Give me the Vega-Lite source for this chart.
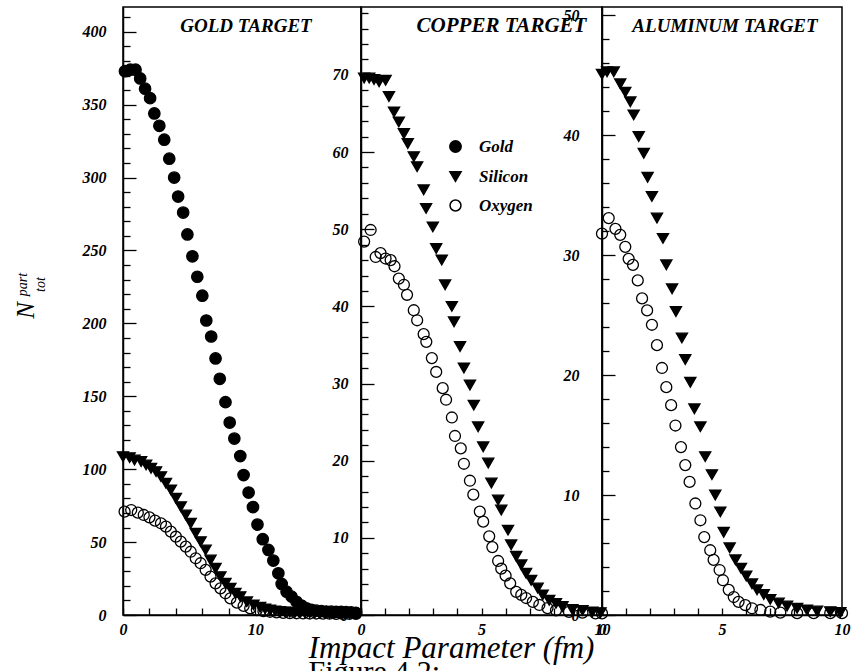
{
  "$schema": "https://vega.github.io/schema/vega-lite/v6.json",
  "background": "white",
  "padding": {"left": 12, "top": 4, "right": 5, "bottom": 0},
  "bounds": "flush",
  "spacing": 0,
  "config": {
    "font": "Liberation Serif",
    "view": {"stroke": "black", "strokeWidth": 1.5},
    "axis": {
      "domainColor": "black", "domainWidth": 1.5, "tickColor": "black", "tickWidth": 1.3, "grid": false,
      "labelFont": "Liberation Serif", "labelFontStyle": "italic", "labelFontWeight": "bold", "labelFontSize": 16,
      "labelColor": "black", "labelFlush": false, "labelOverlap": false, "titleColor": "black"
    },
    "legend": {"labelFont": "Liberation Serif", "labelFontStyle": "italic", "labelFontWeight": "bold", "labelFontSize": 17, "labelColor": "black"}
  },
  "title": {
    "text": "part", "subtitle": "tot", "orient": "left", "anchor": "middle",
    "font": "Liberation Serif", "fontStyle": "italic", "fontWeight": "normal", "fontSize": 14, "color": "black",
    "subtitleFont": "Liberation Serif", "subtitleFontStyle": "italic", "subtitleFontSize": 14, "subtitleColor": "black",
    "offset": -36, "dx": 61, "subtitlePadding": 4
  },
  "data": {"values": [
    {"target":"Gold","projectile":"Gold","b":0.15,"n":373},{"target":"Gold","projectile":"Gold","b":0.55,"n":374},{"target":"Gold","projectile":"Gold","b":0.95,"n":374},{"target":"Gold","projectile":"Gold","b":1.3,"n":368},{"target":"Gold","projectile":"Gold","b":1.67,"n":361},{"target":"Gold","projectile":"Gold","b":2.05,"n":354.5},{"target":"Gold","projectile":"Gold","b":2.37,"n":344},{"target":"Gold","projectile":"Gold","b":2.75,"n":335.5},{"target":"Gold","projectile":"Gold","b":3.12,"n":326},{"target":"Gold","projectile":"Gold","b":3.5,"n":313},{"target":"Gold","projectile":"Gold","b":3.87,"n":300},{"target":"Gold","projectile":"Gold","b":4.17,"n":287},{"target":"Gold","projectile":"Gold","b":4.55,"n":276},{"target":"Gold","projectile":"Gold","b":4.87,"n":261},{"target":"Gold","projectile":"Gold","b":5.25,"n":246},{"target":"Gold","projectile":"Gold","b":5.62,"n":232},{"target":"Gold","projectile":"Gold","b":6.0,"n":219},{"target":"Gold","projectile":"Gold","b":6.3,"n":202},{"target":"Gold","projectile":"Gold","b":6.67,"n":191},{"target":"Gold","projectile":"Gold","b":7.0,"n":176},{"target":"Gold","projectile":"Gold","b":7.32,"n":162},{"target":"Gold","projectile":"Gold","b":7.75,"n":146},{"target":"Gold","projectile":"Gold","b":8.07,"n":132},{"target":"Gold","projectile":"Gold","b":8.42,"n":121},{"target":"Gold","projectile":"Gold","b":8.87,"n":109},{"target":"Gold","projectile":"Gold","b":9.12,"n":96},{"target":"Gold","projectile":"Gold","b":9.5,"n":84},{"target":"Gold","projectile":"Gold","b":9.83,"n":74},{"target":"Gold","projectile":"Gold","b":10.17,"n":62},{"target":"Gold","projectile":"Gold","b":10.57,"n":52},{"target":"Gold","projectile":"Gold","b":11.0,"n":44.6},{"target":"Gold","projectile":"Gold","b":11.37,"n":37.3},{"target":"Gold","projectile":"Gold","b":11.75,"n":28.6},{"target":"Gold","projectile":"Gold","b":12.0,"n":21.3},{"target":"Gold","projectile":"Gold","b":12.37,"n":16},{"target":"Gold","projectile":"Gold","b":12.75,"n":12.6},{"target":"Gold","projectile":"Gold","b":13.12,"n":9.1},{"target":"Gold","projectile":"Gold","b":13.5,"n":6.5},{"target":"Gold","projectile":"Gold","b":13.87,"n":4.6},{"target":"Gold","projectile":"Gold","b":14.25,"n":3.6},{"target":"Gold","projectile":"Gold","b":14.62,"n":3.0},{"target":"Gold","projectile":"Gold","b":15.0,"n":2.6},{"target":"Gold","projectile":"Gold","b":15.37,"n":2.4},{"target":"Gold","projectile":"Gold","b":15.75,"n":2.3},{"target":"Gold","projectile":"Gold","b":16.12,"n":2.2},{"target":"Gold","projectile":"Gold","b":16.5,"n":2.1},{"target":"Gold","projectile":"Gold","b":16.87,"n":2.0},{"target":"Gold","projectile":"Gold","b":17.25,"n":1.8},{"target":"Gold","projectile":"Gold","b":17.62,"n":1.4},
    {"target":"Gold","projectile":"Silicon","b":0.0,"n":108.6},{"target":"Gold","projectile":"Silicon","b":0.5,"n":107.9},{"target":"Gold","projectile":"Silicon","b":0.87,"n":106.3},{"target":"Gold","projectile":"Silicon","b":1.37,"n":105.2},{"target":"Gold","projectile":"Silicon","b":1.75,"n":102.9},{"target":"Gold","projectile":"Silicon","b":2.12,"n":100.6},{"target":"Gold","projectile":"Silicon","b":2.5,"n":98.3},{"target":"Gold","projectile":"Silicon","b":2.87,"n":94.9},{"target":"Gold","projectile":"Silicon","b":3.25,"n":90.3},{"target":"Gold","projectile":"Silicon","b":3.62,"n":85.8},{"target":"Gold","projectile":"Silicon","b":4.0,"n":80.1},{"target":"Gold","projectile":"Silicon","b":4.37,"n":74.3},{"target":"Gold","projectile":"Silicon","b":4.75,"n":68.6},{"target":"Gold","projectile":"Silicon","b":5.12,"n":62.9},{"target":"Gold","projectile":"Silicon","b":5.5,"n":56.1},{"target":"Gold","projectile":"Silicon","b":5.87,"n":50.3},{"target":"Gold","projectile":"Silicon","b":6.25,"n":44.6},{"target":"Gold","projectile":"Silicon","b":6.62,"n":37.7},{"target":"Gold","projectile":"Silicon","b":7.0,"n":32.0},{"target":"Gold","projectile":"Silicon","b":7.37,"n":26.3},{"target":"Gold","projectile":"Silicon","b":7.75,"n":21.7},{"target":"Gold","projectile":"Silicon","b":8.12,"n":18.3},{"target":"Gold","projectile":"Silicon","b":8.5,"n":14.9},{"target":"Gold","projectile":"Silicon","b":8.87,"n":12.6},{"target":"Gold","projectile":"Silicon","b":9.37,"n":9.1},{"target":"Gold","projectile":"Silicon","b":9.87,"n":6.9},{"target":"Gold","projectile":"Silicon","b":10.37,"n":5.3},{"target":"Gold","projectile":"Silicon","b":10.75,"n":4.2},{"target":"Gold","projectile":"Silicon","b":11.12,"n":3.4},{"target":"Gold","projectile":"Silicon","b":11.5,"n":2.8},{"target":"Gold","projectile":"Silicon","b":11.87,"n":2.4},{"target":"Gold","projectile":"Silicon","b":12.25,"n":2.1},{"target":"Gold","projectile":"Silicon","b":12.62,"n":1.9},{"target":"Gold","projectile":"Silicon","b":13.0,"n":1.7},{"target":"Gold","projectile":"Silicon","b":13.37,"n":1.6},{"target":"Gold","projectile":"Silicon","b":13.75,"n":1.5},{"target":"Gold","projectile":"Silicon","b":14.12,"n":1.4},{"target":"Gold","projectile":"Silicon","b":14.5,"n":1.3},{"target":"Gold","projectile":"Silicon","b":14.87,"n":1.3},{"target":"Gold","projectile":"Silicon","b":15.25,"n":1.2},{"target":"Gold","projectile":"Silicon","b":15.62,"n":1.2},{"target":"Gold","projectile":"Silicon","b":16.0,"n":1.1},{"target":"Gold","projectile":"Silicon","b":16.37,"n":1.1},{"target":"Gold","projectile":"Silicon","b":16.75,"n":1.0},{"target":"Gold","projectile":"Silicon","b":17.12,"n":1.0},{"target":"Gold","projectile":"Silicon","b":17.5,"n":0.9},
    {"target":"Gold","projectile":"Oxygen","b":0.12,"n":70.9},{"target":"Gold","projectile":"Oxygen","b":0.62,"n":72.0},{"target":"Gold","projectile":"Oxygen","b":1.12,"n":70.2},{"target":"Gold","projectile":"Oxygen","b":1.57,"n":68.6},{"target":"Gold","projectile":"Oxygen","b":2.0,"n":67.0},{"target":"Gold","projectile":"Oxygen","b":2.42,"n":64.7},{"target":"Gold","projectile":"Oxygen","b":2.87,"n":62.9},{"target":"Gold","projectile":"Oxygen","b":3.25,"n":60.6},{"target":"Gold","projectile":"Oxygen","b":3.62,"n":57.2},{"target":"Gold","projectile":"Oxygen","b":4.0,"n":53.7},{"target":"Gold","projectile":"Oxygen","b":4.37,"n":50.3},{"target":"Gold","projectile":"Oxygen","b":4.75,"n":46.9},{"target":"Gold","projectile":"Oxygen","b":5.12,"n":43.4},{"target":"Gold","projectile":"Oxygen","b":5.5,"n":38.9},{"target":"Gold","projectile":"Oxygen","b":5.87,"n":35.5},{"target":"Gold","projectile":"Oxygen","b":6.25,"n":30.9},{"target":"Gold","projectile":"Oxygen","b":6.62,"n":26.3},{"target":"Gold","projectile":"Oxygen","b":7.0,"n":21.7},{"target":"Gold","projectile":"Oxygen","b":7.37,"n":18.3},{"target":"Gold","projectile":"Oxygen","b":7.75,"n":14.9},{"target":"Gold","projectile":"Oxygen","b":8.12,"n":11.4},{"target":"Gold","projectile":"Oxygen","b":8.62,"n":8.5},{"target":"Gold","projectile":"Oxygen","b":9.12,"n":6.2},{"target":"Gold","projectile":"Oxygen","b":9.62,"n":4.6},{"target":"Gold","projectile":"Oxygen","b":10.12,"n":3.4},{"target":"Gold","projectile":"Oxygen","b":10.62,"n":2.7},{"target":"Gold","projectile":"Oxygen","b":11.12,"n":2.2},{"target":"Gold","projectile":"Oxygen","b":11.62,"n":1.8},{"target":"Gold","projectile":"Oxygen","b":12.12,"n":1.5},{"target":"Gold","projectile":"Oxygen","b":12.62,"n":1.3},{"target":"Gold","projectile":"Oxygen","b":13.12,"n":1.2},{"target":"Gold","projectile":"Oxygen","b":13.62,"n":1.1},{"target":"Gold","projectile":"Oxygen","b":14.12,"n":1.0},{"target":"Gold","projectile":"Oxygen","b":14.62,"n":1.0},{"target":"Gold","projectile":"Oxygen","b":15.12,"n":0.9},{"target":"Gold","projectile":"Oxygen","b":15.62,"n":0.9},{"target":"Gold","projectile":"Oxygen","b":16.12,"n":0.8},{"target":"Gold","projectile":"Oxygen","b":16.62,"n":0.8},{"target":"Gold","projectile":"Oxygen","b":17.12,"n":0.8},{"target":"Gold","projectile":"Oxygen","b":17.62,"n":0.8},
    {"target":"Copper","projectile":"Silicon","b":0.13,"n":69.6},{"target":"Copper","projectile":"Silicon","b":0.34,"n":69.6},{"target":"Copper","projectile":"Silicon","b":0.54,"n":69.4},{"target":"Copper","projectile":"Silicon","b":0.75,"n":69.1},{"target":"Copper","projectile":"Silicon","b":1.02,"n":69.3},{"target":"Copper","projectile":"Silicon","b":1.16,"n":67.2},{"target":"Copper","projectile":"Silicon","b":1.37,"n":65.2},{"target":"Copper","projectile":"Silicon","b":1.57,"n":63.9},{"target":"Copper","projectile":"Silicon","b":1.78,"n":62.4},{"target":"Copper","projectile":"Silicon","b":1.94,"n":61.1},{"target":"Copper","projectile":"Silicon","b":2.19,"n":59.4},{"target":"Copper","projectile":"Silicon","b":2.33,"n":58.1},{"target":"Copper","projectile":"Silicon","b":2.6,"n":55.1},{"target":"Copper","projectile":"Silicon","b":2.7,"n":52.7},{"target":"Copper","projectile":"Silicon","b":2.98,"n":50.3},{"target":"Copper","projectile":"Silicon","b":3.12,"n":47.5},{"target":"Copper","projectile":"Silicon","b":3.35,"n":46.0},{"target":"Copper","projectile":"Silicon","b":3.49,"n":42.8},{"target":"Copper","projectile":"Silicon","b":3.77,"n":40.0},{"target":"Copper","projectile":"Silicon","b":3.86,"n":38.0},{"target":"Copper","projectile":"Silicon","b":4.11,"n":34.8},{"target":"Copper","projectile":"Silicon","b":4.27,"n":32.0},{"target":"Copper","projectile":"Silicon","b":4.52,"n":29.8},{"target":"Copper","projectile":"Silicon","b":4.68,"n":27.2},{"target":"Copper","projectile":"Silicon","b":4.86,"n":24.4},{"target":"Copper","projectile":"Silicon","b":5.07,"n":21.8},{"target":"Copper","projectile":"Silicon","b":5.28,"n":19.7},{"target":"Copper","projectile":"Silicon","b":5.41,"n":17.1},{"target":"Copper","projectile":"Silicon","b":5.69,"n":14.9},{"target":"Copper","projectile":"Silicon","b":5.82,"n":13.6},{"target":"Copper","projectile":"Silicon","b":6.1,"n":11.0},{"target":"Copper","projectile":"Silicon","b":6.23,"n":9.1},{"target":"Copper","projectile":"Silicon","b":6.44,"n":7.6},{"target":"Copper","projectile":"Silicon","b":6.65,"n":6.5},{"target":"Copper","projectile":"Silicon","b":6.85,"n":5.4},{"target":"Copper","projectile":"Silicon","b":7.06,"n":4.5},{"target":"Copper","projectile":"Silicon","b":7.33,"n":3.5},{"target":"Copper","projectile":"Silicon","b":7.54,"n":2.6},{"target":"Copper","projectile":"Silicon","b":7.81,"n":1.9},{"target":"Copper","projectile":"Silicon","b":8.09,"n":1.5},{"target":"Copper","projectile":"Silicon","b":8.36,"n":1.1},{"target":"Copper","projectile":"Silicon","b":8.77,"n":0.7},{"target":"Copper","projectile":"Silicon","b":9.19,"n":0.6},{"target":"Copper","projectile":"Silicon","b":9.6,"n":0.4},{"target":"Copper","projectile":"Silicon","b":9.94,"n":0.3},
    {"target":"Copper","projectile":"Oxygen","b":0.13,"n":48.4},{"target":"Copper","projectile":"Oxygen","b":0.4,"n":49.9},{"target":"Copper","projectile":"Oxygen","b":0.61,"n":46.4},{"target":"Copper","projectile":"Oxygen","b":0.81,"n":46.9},{"target":"Copper","projectile":"Oxygen","b":1.02,"n":46.2},{"target":"Copper","projectile":"Oxygen","b":1.23,"n":46.0},{"target":"Copper","projectile":"Oxygen","b":1.39,"n":45.2},{"target":"Copper","projectile":"Oxygen","b":1.57,"n":43.6},{"target":"Copper","projectile":"Oxygen","b":1.78,"n":42.8},{"target":"Copper","projectile":"Oxygen","b":1.91,"n":41.5},{"target":"Copper","projectile":"Oxygen","b":2.19,"n":39.5},{"target":"Copper","projectile":"Oxygen","b":2.33,"n":38.2},{"target":"Copper","projectile":"Oxygen","b":2.6,"n":36.4},{"target":"Copper","projectile":"Oxygen","b":2.71,"n":35.4},{"target":"Copper","projectile":"Oxygen","b":2.94,"n":33.3},{"target":"Copper","projectile":"Oxygen","b":3.12,"n":31.5},{"target":"Copper","projectile":"Oxygen","b":3.39,"n":29.4},{"target":"Copper","projectile":"Oxygen","b":3.53,"n":27.9},{"target":"Copper","projectile":"Oxygen","b":3.77,"n":25.6},{"target":"Copper","projectile":"Oxygen","b":3.9,"n":23.2},{"target":"Copper","projectile":"Oxygen","b":4.14,"n":21.6},{"target":"Copper","projectile":"Oxygen","b":4.27,"n":19.6},{"target":"Copper","projectile":"Oxygen","b":4.52,"n":17.4},{"target":"Copper","projectile":"Oxygen","b":4.66,"n":15.6},{"target":"Copper","projectile":"Oxygen","b":4.93,"n":13.4},{"target":"Copper","projectile":"Oxygen","b":5.07,"n":12.1},{"target":"Copper","projectile":"Oxygen","b":5.32,"n":10.2},{"target":"Copper","projectile":"Oxygen","b":5.45,"n":8.8},{"target":"Copper","projectile":"Oxygen","b":5.69,"n":7.0},{"target":"Copper","projectile":"Oxygen","b":5.82,"n":6.0},{"target":"Copper","projectile":"Oxygen","b":6.0,"n":5.1},{"target":"Copper","projectile":"Oxygen","b":6.19,"n":4.1},{"target":"Copper","projectile":"Oxygen","b":6.44,"n":3.0},{"target":"Copper","projectile":"Oxygen","b":6.65,"n":2.6},{"target":"Copper","projectile":"Oxygen","b":6.85,"n":2.2},{"target":"Copper","projectile":"Oxygen","b":7.13,"n":1.7},{"target":"Copper","projectile":"Oxygen","b":7.4,"n":1.3},{"target":"Copper","projectile":"Oxygen","b":7.74,"n":0.9},{"target":"Copper","projectile":"Oxygen","b":8.09,"n":0.6},{"target":"Copper","projectile":"Oxygen","b":8.63,"n":0.4},{"target":"Copper","projectile":"Oxygen","b":9.19,"n":0.3},{"target":"Copper","projectile":"Oxygen","b":9.73,"n":0.2},{"target":"Copper","projectile":"Oxygen","b":10.0,"n":0.2},
    {"target":"Aluminum","projectile":"Silicon","b":0.0,"n":45.1},{"target":"Aluminum","projectile":"Silicon","b":0.21,"n":45.3},{"target":"Aluminum","projectile":"Silicon","b":0.49,"n":45.3},{"target":"Aluminum","projectile":"Silicon","b":0.76,"n":44.3},{"target":"Aluminum","projectile":"Silicon","b":0.97,"n":43.6},{"target":"Aluminum","projectile":"Silicon","b":1.18,"n":42.8},{"target":"Aluminum","projectile":"Silicon","b":1.32,"n":41.7},{"target":"Aluminum","projectile":"Silicon","b":1.53,"n":39.9},{"target":"Aluminum","projectile":"Silicon","b":1.74,"n":38.5},{"target":"Aluminum","projectile":"Silicon","b":1.9,"n":36.5},{"target":"Aluminum","projectile":"Silicon","b":2.08,"n":34.9},{"target":"Aluminum","projectile":"Silicon","b":2.29,"n":33.1},{"target":"Aluminum","projectile":"Silicon","b":2.54,"n":31.4},{"target":"Aluminum","projectile":"Silicon","b":2.68,"n":29.2},{"target":"Aluminum","projectile":"Silicon","b":2.92,"n":27.2},{"target":"Aluminum","projectile":"Silicon","b":3.08,"n":25.3},{"target":"Aluminum","projectile":"Silicon","b":3.33,"n":23.1},{"target":"Aluminum","projectile":"Silicon","b":3.47,"n":21.3},{"target":"Aluminum","projectile":"Silicon","b":3.68,"n":19.4},{"target":"Aluminum","projectile":"Silicon","b":3.85,"n":17.2},{"target":"Aluminum","projectile":"Silicon","b":4.1,"n":15.7},{"target":"Aluminum","projectile":"Silicon","b":4.3,"n":13.2},{"target":"Aluminum","projectile":"Silicon","b":4.58,"n":11.7},{"target":"Aluminum","projectile":"Silicon","b":4.72,"n":10.0},{"target":"Aluminum","projectile":"Silicon","b":4.93,"n":8.6},{"target":"Aluminum","projectile":"Silicon","b":5.07,"n":6.9},{"target":"Aluminum","projectile":"Silicon","b":5.32,"n":5.6},{"target":"Aluminum","projectile":"Silicon","b":5.56,"n":4.6},{"target":"Aluminum","projectile":"Silicon","b":5.79,"n":3.9},{"target":"Aluminum","projectile":"Silicon","b":6.01,"n":3.25},{"target":"Aluminum","projectile":"Silicon","b":6.25,"n":2.6},{"target":"Aluminum","projectile":"Silicon","b":6.46,"n":2.1},{"target":"Aluminum","projectile":"Silicon","b":6.74,"n":1.7},{"target":"Aluminum","projectile":"Silicon","b":7.01,"n":1.3},{"target":"Aluminum","projectile":"Silicon","b":7.36,"n":1.0},{"target":"Aluminum","projectile":"Silicon","b":7.71,"n":0.75},{"target":"Aluminum","projectile":"Silicon","b":8.13,"n":0.56},{"target":"Aluminum","projectile":"Silicon","b":8.54,"n":0.42},{"target":"Aluminum","projectile":"Silicon","b":8.96,"n":0.33},{"target":"Aluminum","projectile":"Silicon","b":9.51,"n":0.28},{"target":"Aluminum","projectile":"Silicon","b":9.93,"n":0.2},
    {"target":"Aluminum","projectile":"Oxygen","b":0.0,"n":31.8},{"target":"Aluminum","projectile":"Oxygen","b":0.28,"n":33.1},{"target":"Aluminum","projectile":"Oxygen","b":0.56,"n":32.2},{"target":"Aluminum","projectile":"Oxygen","b":0.76,"n":31.7},{"target":"Aluminum","projectile":"Oxygen","b":0.97,"n":30.7},{"target":"Aluminum","projectile":"Oxygen","b":1.11,"n":29.7},{"target":"Aluminum","projectile":"Oxygen","b":1.29,"n":29.2},{"target":"Aluminum","projectile":"Oxygen","b":1.49,"n":27.9},{"target":"Aluminum","projectile":"Oxygen","b":1.67,"n":26.4},{"target":"Aluminum","projectile":"Oxygen","b":1.88,"n":25.4},{"target":"Aluminum","projectile":"Oxygen","b":2.08,"n":24.2},{"target":"Aluminum","projectile":"Oxygen","b":2.29,"n":22.5},{"target":"Aluminum","projectile":"Oxygen","b":2.5,"n":20.6},{"target":"Aluminum","projectile":"Oxygen","b":2.68,"n":19.0},{"target":"Aluminum","projectile":"Oxygen","b":2.88,"n":17.5},{"target":"Aluminum","projectile":"Oxygen","b":3.06,"n":15.8},{"target":"Aluminum","projectile":"Oxygen","b":3.29,"n":14.0},{"target":"Aluminum","projectile":"Oxygen","b":3.47,"n":12.5},{"target":"Aluminum","projectile":"Oxygen","b":3.65,"n":11.1},{"target":"Aluminum","projectile":"Oxygen","b":3.89,"n":9.3},{"target":"Aluminum","projectile":"Oxygen","b":4.1,"n":7.9},{"target":"Aluminum","projectile":"Oxygen","b":4.26,"n":6.5},{"target":"Aluminum","projectile":"Oxygen","b":4.51,"n":5.4},{"target":"Aluminum","projectile":"Oxygen","b":4.65,"n":4.6},{"target":"Aluminum","projectile":"Oxygen","b":4.9,"n":3.75},{"target":"Aluminum","projectile":"Oxygen","b":5.04,"n":2.9},{"target":"Aluminum","projectile":"Oxygen","b":5.28,"n":2.1},{"target":"Aluminum","projectile":"Oxygen","b":5.49,"n":1.5},{"target":"Aluminum","projectile":"Oxygen","b":5.69,"n":1.1},{"target":"Aluminum","projectile":"Oxygen","b":5.97,"n":0.83},{"target":"Aluminum","projectile":"Oxygen","b":6.25,"n":0.56},{"target":"Aluminum","projectile":"Oxygen","b":6.6,"n":0.42},{"target":"Aluminum","projectile":"Oxygen","b":7.01,"n":0.28},{"target":"Aluminum","projectile":"Oxygen","b":7.43,"n":0.2},{"target":"Aluminum","projectile":"Oxygen","b":8.13,"n":0.15},{"target":"Aluminum","projectile":"Oxygen","b":8.82,"n":0.15},{"target":"Aluminum","projectile":"Oxygen","b":9.51,"n":0.15},{"target":"Aluminum","projectile":"Oxygen","b":10.0,"n":0.15}
  ]},
  "resolve": {"scale": {"x": "independent", "y": "independent"}, "legend": {"shape": "independent", "fill": "independent", "size": "independent"}},
  "hconcat": [
    {
      "width": 238, "height": 608,
      "title": {"text": "GOLD TARGET", "orient": "top", "offset": -44, "baseline": "alphabetic", "dx": 4, "font": "Liberation Serif", "fontStyle": "italic", "fontWeight": "bold", "fontSize": 19, "color": "black"},
      "transform": [{"filter": "datum.target === 'Gold'"}],
      "mark": {"type": "point", "stroke": "black", "strokeWidth": 1.3, "opacity": 1},
      "encoding": {
        "x": {"field": "b", "type": "quantitative", "scale": {"domain": [0, 18], "nice": false},
          "axis": {"values": [0,2,4,6,8,10,12,14,16,18], "labelExpr": "datum.value % 10 === 0 ? datum.label : ''", "tickSize": -7, "labelPadding": 13,
            "title": "Figure 4.2:", "titleFont": "Liberation Serif", "titleFontStyle": "normal", "titleFontWeight": "normal", "titleFontSize": 30,
            "titleAlign": "left", "titleAnchor": "start", "titleX": 185, "titleY": 65, "titleBaseline": "alphabetic"}},
        "y": {"field": "n", "type": "quantitative", "scale": {"domain": [0, 417], "nice": false},
          "axis": {"values": [0,10,20,30,40,50,60,70,80,90,100,110,120,130,140,150,160,170,180,190,200,210,220,230,240,250,260,270,280,290,300,310,320,330,340,350,360,370,380,390,400,410],
            "labelExpr": "datum.value % 50 === 0 ? datum.label : ''",
            "tickSize": {"condition": {"test": "datum.value % 50 === 0", "value": -13}, "value": -7}, "labelPadding": 30,
            "title": "N", "titleFont": "Liberation Serif", "titleFontStyle": "italic", "titleFontWeight": "normal", "titleFontSize": 25,
            "titleAngle": 270, "titleAlign": "center", "titleBaseline": "alphabetic", "titleX": -90, "titleY": 303}},
        "shape": {"field": "projectile", "type": "nominal", "scale": {"domain": ["Gold", "Silicon", "Oxygen"], "range": ["circle", "triangle-down", "circle"]}, "legend": null},
        "fill": {"field": "projectile", "type": "nominal", "scale": {"domain": ["Gold", "Silicon", "Oxygen"], "range": ["black", "black", "transparent"]}, "legend": null},
        "size": {"field": "projectile", "type": "nominal", "scale": {"domain": ["Gold", "Silicon", "Oxygen"], "range": [130, 120, 90]}, "legend": null}
      }
    },
    {
      "width": 241, "height": 608,
      "title": {"text": "COPPER TARGET", "orient": "top", "offset": -44, "baseline": "alphabetic", "dx": 20, "dy": 4, "font": "Liberation Serif", "fontStyle": "italic", "fontWeight": "bold", "fontSize": 21, "color": "black"},
      "transform": [{"filter": "datum.target === 'Copper'"}],
      "mark": {"type": "point", "stroke": "black", "strokeWidth": 1.3, "opacity": 1},
      "encoding": {
        "x": {"field": "b", "type": "quantitative", "scale": {"domain": [0, 10], "nice": false},
          "axis": {"values": [0,1,2,3,4,5,6,7,8,9,10], "labelExpr": "datum.value % 5 === 0 ? datum.label : ''", "tickSize": -7, "labelPadding": 13,
            "title": "Impact Parameter (fm)", "titleFont": "Liberation Serif", "titleFontStyle": "italic", "titleFontWeight": "normal", "titleFontSize": 31,
            "titleAlign": "center", "titleX": 90, "titleY": 42, "titleBaseline": "alphabetic"}},
        "y": {"field": "n", "type": "quantitative", "scale": {"domain": [0, 78.8], "nice": false},
          "axis": {"values": [0,2,4,6,8,10,12,14,16,18,20,22,24,26,28,30,32,34,36,38,40,42,44,46,48,50,52,54,56,58,60,62,64,66,68,70,72,74,76,78],
            "labelExpr": "datum.value % 10 === 0 ? datum.label : ''",
            "tickSize": {"condition": {"test": "datum.value % 10 === 0", "value": -13}, "value": -7}, "labelPadding": 26, "title": null}},
        "shape": {"field": "projectile", "type": "nominal", "scale": {"domain": ["Gold", "Silicon", "Oxygen"], "range": ["circle", "triangle-down", "circle"]},
          "legend": {"title": null, "orient": "none", "legendX": 86, "legendY": 131, "padding": 0, "rowPadding": 11, "labelOffset": 15}},
        "fill": {"field": "projectile", "type": "nominal", "scale": {"domain": ["Gold", "Silicon", "Oxygen"], "range": ["black", "black", "transparent"]},
          "legend": {"title": null, "orient": "none", "legendX": 86, "legendY": 131, "padding": 0, "rowPadding": 11, "labelOffset": 15}},
        "size": {"field": "projectile", "type": "nominal", "scale": {"domain": ["Gold", "Silicon", "Oxygen"], "range": [130, 120, 90]},
          "legend": {"title": null, "orient": "none", "legendX": 86, "legendY": 131, "padding": 0, "rowPadding": 11, "labelOffset": 15}}
      }
    },
    {
      "width": 240, "height": 608,
      "title": {"text": "ALUMINUM TARGET", "orient": "top", "offset": -44, "baseline": "alphabetic", "dx": 3, "font": "Liberation Serif", "fontStyle": "italic", "fontWeight": "bold", "fontSize": 19, "color": "black"},
      "transform": [{"filter": "datum.target === 'Aluminum'"}],
      "mark": {"type": "point", "stroke": "black", "strokeWidth": 1.3, "opacity": 1},
      "encoding": {
        "x": {"field": "b", "type": "quantitative", "scale": {"domain": [0, 10], "nice": false},
          "axis": {"values": [0,1,2,3,4,5,6,7,8,9,10], "labelExpr": "datum.value % 5 === 0 ? datum.label : ''", "tickSize": -7, "labelPadding": 13, "title": null}},
        "y": {"field": "n", "type": "quantitative", "scale": {"domain": [0, 50.7], "nice": false},
          "axis": {"values": [0,2,4,6,8,10,12,14,16,18,20,22,24,26,28,30,32,34,36,38,40,42,44,46,48,50],
            "labelExpr": "datum.value % 10 === 0 ? datum.label : ''",
            "tickSize": {"condition": {"test": "datum.value % 10 === 0", "value": -13}, "value": -7}, "labelPadding": 36, "title": null}},
        "shape": {"field": "projectile", "type": "nominal", "scale": {"domain": ["Gold", "Silicon", "Oxygen"], "range": ["circle", "triangle-down", "circle"]}, "legend": null},
        "fill": {"field": "projectile", "type": "nominal", "scale": {"domain": ["Gold", "Silicon", "Oxygen"], "range": ["black", "black", "transparent"]}, "legend": null},
        "size": {"field": "projectile", "type": "nominal", "scale": {"domain": ["Gold", "Silicon", "Oxygen"], "range": [130, 120, 90]}, "legend": null}
      }
    }
  ]
}
